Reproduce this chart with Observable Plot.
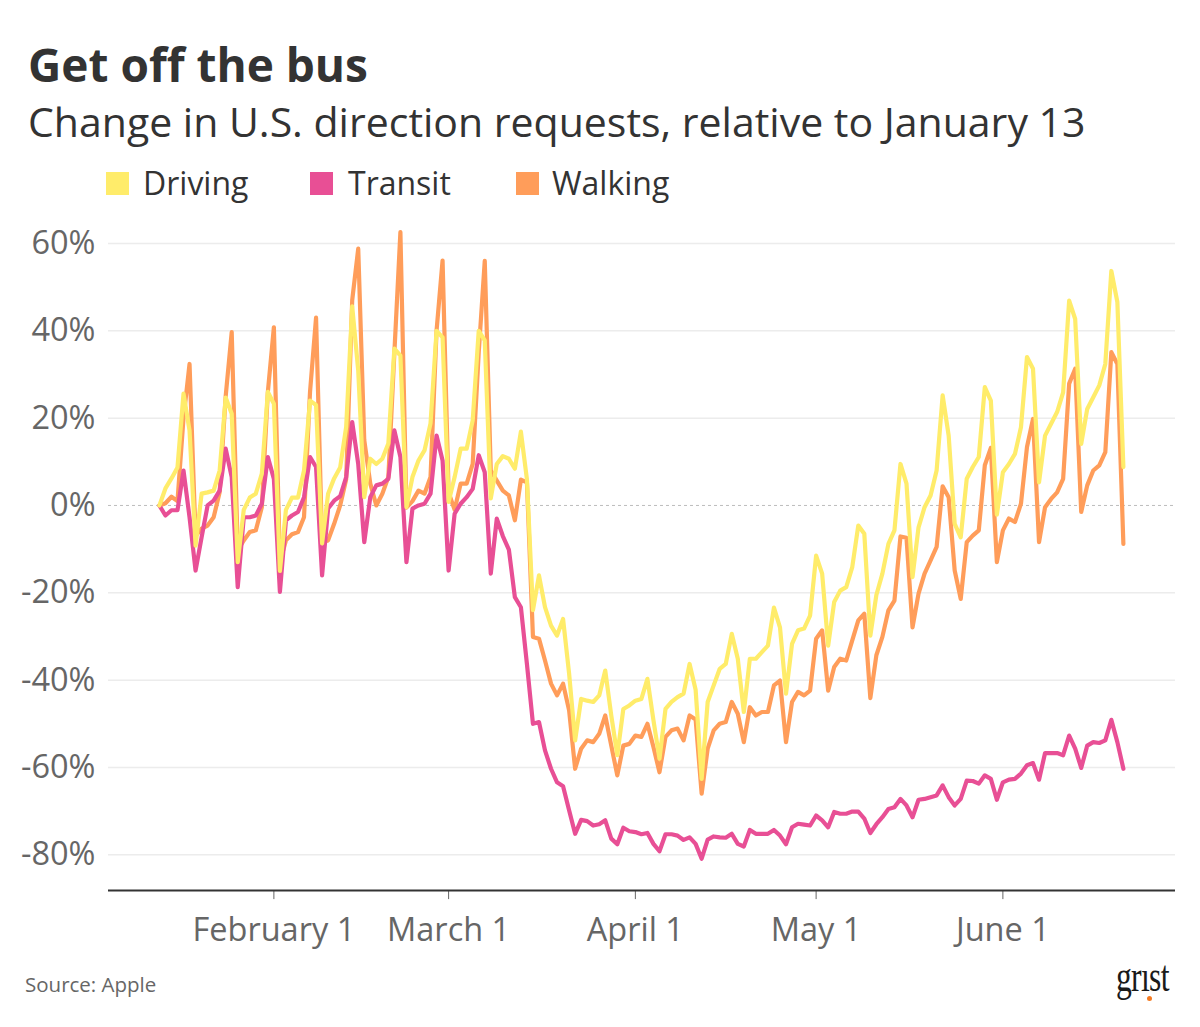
<!DOCTYPE html>
<html>
<head>
<meta charset="utf-8">
<script src="https://cdn.jsdelivr.net/npm/d3@7"></script>
<script src="https://cdn.jsdelivr.net/npm/@observablehq/plot@0.6"></script>
<style>
  html, body { margin: 0; padding: 0; background: #fff; }
  #wrap { position: relative; width: 1200px; height: 1027px; font-family: "Open Sans", sans-serif; color: #333; overflow: hidden; }
  .abs { position: absolute; white-space: nowrap; line-height: 1; }
  #title { left: 28px; top: 41px; font-size: 46px; font-weight: 700; color: #333; }
  #subtitle { left: 28px; top: 101px; font-size: 41px; font-weight: 400; color: #333; }
  .sw { position: absolute; width: 23px; height: 23px; top: 172px; }
  .lg { position: absolute; top: 167px; font-size: 32px; color: #333; line-height: 1; }
  #chart { position: absolute; left: 0; top: 210px; }
  #source { left: 25px; top: 974px; font-size: 20.5px; color: #666; }
  #logo { left: 1116px; top: 955px; font-family: "Liberation Serif", serif; font-size: 44px; color: #1a1a1a; transform: scaleX(0.72); transform-origin: left top; letter-spacing: -1px; }
  #logodot { position: absolute; left: 1147px; top: 996px; width: 5px; height: 5px; border-radius: 50%; background: #f47a20; }
</style>
</head>
<body>
<div id="wrap">
  <div id="title" class="abs">Get off the bus</div>
  <div id="subtitle" class="abs">Change in U.S. direction requests, relative to January 13</div>
  <div id="legend"></div>
  <div id="chart"></div>
  <div id="source" class="abs">Source: Apple</div>
  <div id="logo" class="abs">grıst</div>
  <div id="logodot"></div>
</div>
<script>
// ---- data (percent change vs. Jan 13, 2020; one value per day from Jan 13 to Jun 21) ----
const startDay = "2020-01-13";

const driving = [
  0, 3.9, 6.2, 8.7, 25.6, 17.2, -9.2, 2.7, 3, 3.4,
  8, 24.7, 21, -13, -1, 1.8, 2.7, 7.3, 26, 23.3,
  -15, -1, 1.8, 1.8, 8, 24, 23, -8.7, 2.7, 6.2,
  8.7, 18, 45.6, 30.9, 1.9, 10.7, 9.5, 10.7, 14.2, 35.9,
  34.3, -0.4, 6.5, 10.3, 12.6, 18.8, 40, 38.5, 0.8, 6.5,
  13, 13, 19.5, 40, 37.8, 1.6, 9.5, 11.3, 10.7, 8.4,
  16.9, 6, -24, -16, -23.3, -27.5, -29.8, -26, -38.5, -53.8,
  -44.3, -44.7, -45, -43.5, -37.8, -48.1, -57.2, -46.6, -45.8, -44.7,
  -44.3, -39.7, -49.2, -58, -46.6, -45, -43.9, -43.1, -36.3, -42.2,
  -62.6, -45, -41.2, -37.4, -36.3, -29.4, -35.1, -47.3, -35.1, -35.1,
  -33.6, -32.1, -23.4, -27.9, -43.1, -31.7, -28.6, -28.2, -25.2, -11.5,
  -15.6, -32.1, -22.1, -19.5, -18.7, -14.1, -4.6, -6.5, -29.8, -20.5,
  -15.6, -8.8, -5.7, 9.5, 5, -16.4, -5, -0.4, 2.3, 8,
  25.2, 16, -4.2, -7.3, 6.1, 8.8, 11.1, 27.1, 24, -2.1,
  7.6, 9.5, 11.8, 17.9, 34, 31.3, 5.3, 16, 18.7, 21.4,
  25.9, 46.9, 42.7, 14.1, 22.1, 24.8, 27.5, 32.4, 53.7, 46.6,
  8.8
];

const transit = [
  0, -2.3, -1.1, -1.1, 8, -2.7, -14.9, -7.3, 0, 1.1,
  3.4, 13, 6.5, -18.7, -2.7, -2.7, -2.3, 0.4, 11.1, 6.1,
  -19.8, -3.4, -2.3, -1.5, 1.9, 11.1, 8.8, -16, -0.7, 1.1,
  2.1, 6.5, 19.1, 9.5, -8.4, 1.9, 4.6, 5, 6.1, 17.2,
  11.1, -13, -0.7, 0, 0.4, 2.7, 16, 10.3, -14.9, -1.9,
  0.4, 1.9, 3.8, 11.5, 7.6, -15.6, -3, -7, -10.1, -21,
  -23.3, -36.3, -50, -49.6, -56.1, -60.3, -63.4, -64.3, -69.8, -75.2,
  -72, -72.3, -73.3, -73, -72.1, -76.3, -77.6, -73.8, -74.6, -74.8,
  -75.3, -75, -77.5, -79.2, -75.3, -75.3, -75.6, -76.6, -76, -77.5,
  -80.9, -76.5, -75.8, -76, -76.1, -75.2, -77.5, -78.1, -74.3, -75.2,
  -75.2, -75.2, -74.3, -75.6, -77.6, -73.7, -72.9, -73.1, -73.3, -71,
  -72.1, -73.7, -70.2, -70.6, -70.6, -70.1, -70.1, -71.7, -75, -73,
  -71.4, -69.5, -69.1, -67.2, -68.7, -71.4, -67.4, -67.2, -66.8, -66.4,
  -64.1, -66.8, -68.7, -67.2, -63, -63.1, -63.7, -61.8, -62.6, -67.4,
  -63.4, -62.8, -62.6, -61.4, -59.5, -59, -62.8, -56.7, -56.7, -56.7,
  -57.2, -52.7, -55.7, -60.1, -55, -54.2, -54.4, -53.8, -49.1, -54.2,
  -60.3
];

const walking = [
  0, 0.5, 2, 1, 20, 32.4, -7, -5.3, -4.6, -2.7,
  3, 25, 39.7, -10.3, -8, -6.1, -5.7, -0.4, 26, 40.8,
  -13, -8, -6.6, -6.1, -2.7, 26, 43, -8.4, -8, -4.2,
  0, 6, 47, 58.8, 15, 5, 0, 2.7, 6.5, 35,
  62.6, -0.5, 1, 3.4, 2.7, 6.5, 40, 56.1, 3, -1,
  5, 5, 9.5, 35, 56, 8, 5.7, 3.4, 2.3, -3.4,
  5.9, 5.3, -30.1, -30.5, -35.5, -40.8, -43.5, -40.8, -46.9, -60.3,
  -55.7, -53.8, -54.2, -52.3, -48.1, -55, -61.8, -55, -54.6, -52.7,
  -53, -50, -55.3, -61.1, -53, -51.5, -51.1, -53.8, -48.1, -49,
  -66, -55.7, -51.5, -50, -49.6, -45, -47.7, -54.2, -46.2, -48.1,
  -47.3, -47.3, -41.2, -40.1, -54.2, -45, -42.7, -43.5, -42.4, -30.5,
  -28.6, -42.4, -37, -35.1, -35.5, -30.9, -26.3, -24.8, -44.1, -34.3,
  -30.1, -24, -21.8, -7.1, -7.4, -27.9, -20.2, -15.6, -12.6, -9.5,
  4.4, 1.9, -14.9, -21.4, -8.4, -6.9, -5.7, 9.2, 13.2, -13,
  -5.7, -3, -3.8, 0.4, 13.4, 19.8, -8.4, -0.4, 1.5, 3,
  6.1, 27.9, 31.3, -1.5, 4.6, 8, 9.2, 12.2, 35.1, 32.4,
  -8.8
];

const seriesNames = ["Driving", "Transit", "Walking"];
const seriesColors = ["#ffec6a", "#e84f95", "#ff9d5a"];
const yTicks = [-80, -60, -40, -20, 0, 20, 40, 60];
const xTickLabels = ["2020-02-01", "2020-03-01", "2020-04-01", "2020-05-01", "2020-06-01"];

// ---- build ----
const t0 = new Date(startDay + "T00:00:00Z");
const day = 864e5;
const dates = driving.map((_, i) => new Date(+t0 + i * day));
const rows = (vals) => vals.map((v, i) => ({date: dates[i], value: v}));

// legend
const legend = document.getElementById("legend");
const lgPos = [[106, 143], [310, 348], [516, 552]];
seriesNames.forEach((name, i) => {
  const sw = document.createElement("div");
  sw.className = "sw";
  sw.style.left = lgPos[i][0] + "px";
  sw.style.background = seriesColors[i];
  legend.appendChild(sw);
  const t = document.createElement("div");
  t.className = "lg";
  t.style.left = lgPos[i][1] + "px";
  t.textContent = name;
  legend.appendChild(t);
});

const xDomain = [new Date(+t0 - 8.45 * day), new Date(+t0 + 168.65 * day)];

const chart = Plot.plot({
  width: 1200,
  height: 760,
  marginLeft: 108,
  marginRight: 25,
  marginTop: 15.5,
  marginBottom: 79.9,
  style: {fontFamily: "Open Sans, sans-serif", fontSize: "32.5px", color: "#666", background: "transparent"},
  x: {
    type: "utc",
    domain: xDomain,
    ticks: xTickLabels.map(s => new Date(s + "T00:00:00Z")),
    tickFormat: d3.utcFormat("%B %-d"),
    tickSize: 9,
    tickPadding: 18,
    label: null
  },
  y: {
    domain: [-88.2, 64],
    ticks: yTicks,
    tickFormat: d => d + "%",
    tickSize: 0,
    tickPadding: 13,
    label: null
  },
  marks: [
    Plot.ruleY(yTicks.filter(d => d !== 0), {stroke: "#ececec", strokeWidth: 1.5}),
    Plot.ruleY([0], {stroke: "#bdbdbd", strokeWidth: 1, strokeDasharray: "3,3"}),
    Plot.ruleY([-88.2], {stroke: "#333", strokeWidth: 2}),
    Plot.lineY(rows(walking), {x: "date", y: "value", stroke: seriesColors[2], strokeWidth: 4.2, strokeLinejoin: "round"}),
    Plot.lineY(rows(transit), {x: "date", y: "value", stroke: seriesColors[1], strokeWidth: 4.2, strokeLinejoin: "round"}),
    Plot.lineY(rows(driving), {x: "date", y: "value", stroke: seriesColors[0], strokeWidth: 4.2, strokeLinejoin: "round"})
  ]
});
document.getElementById("chart").appendChild(chart);
</script>
</body>
</html>
